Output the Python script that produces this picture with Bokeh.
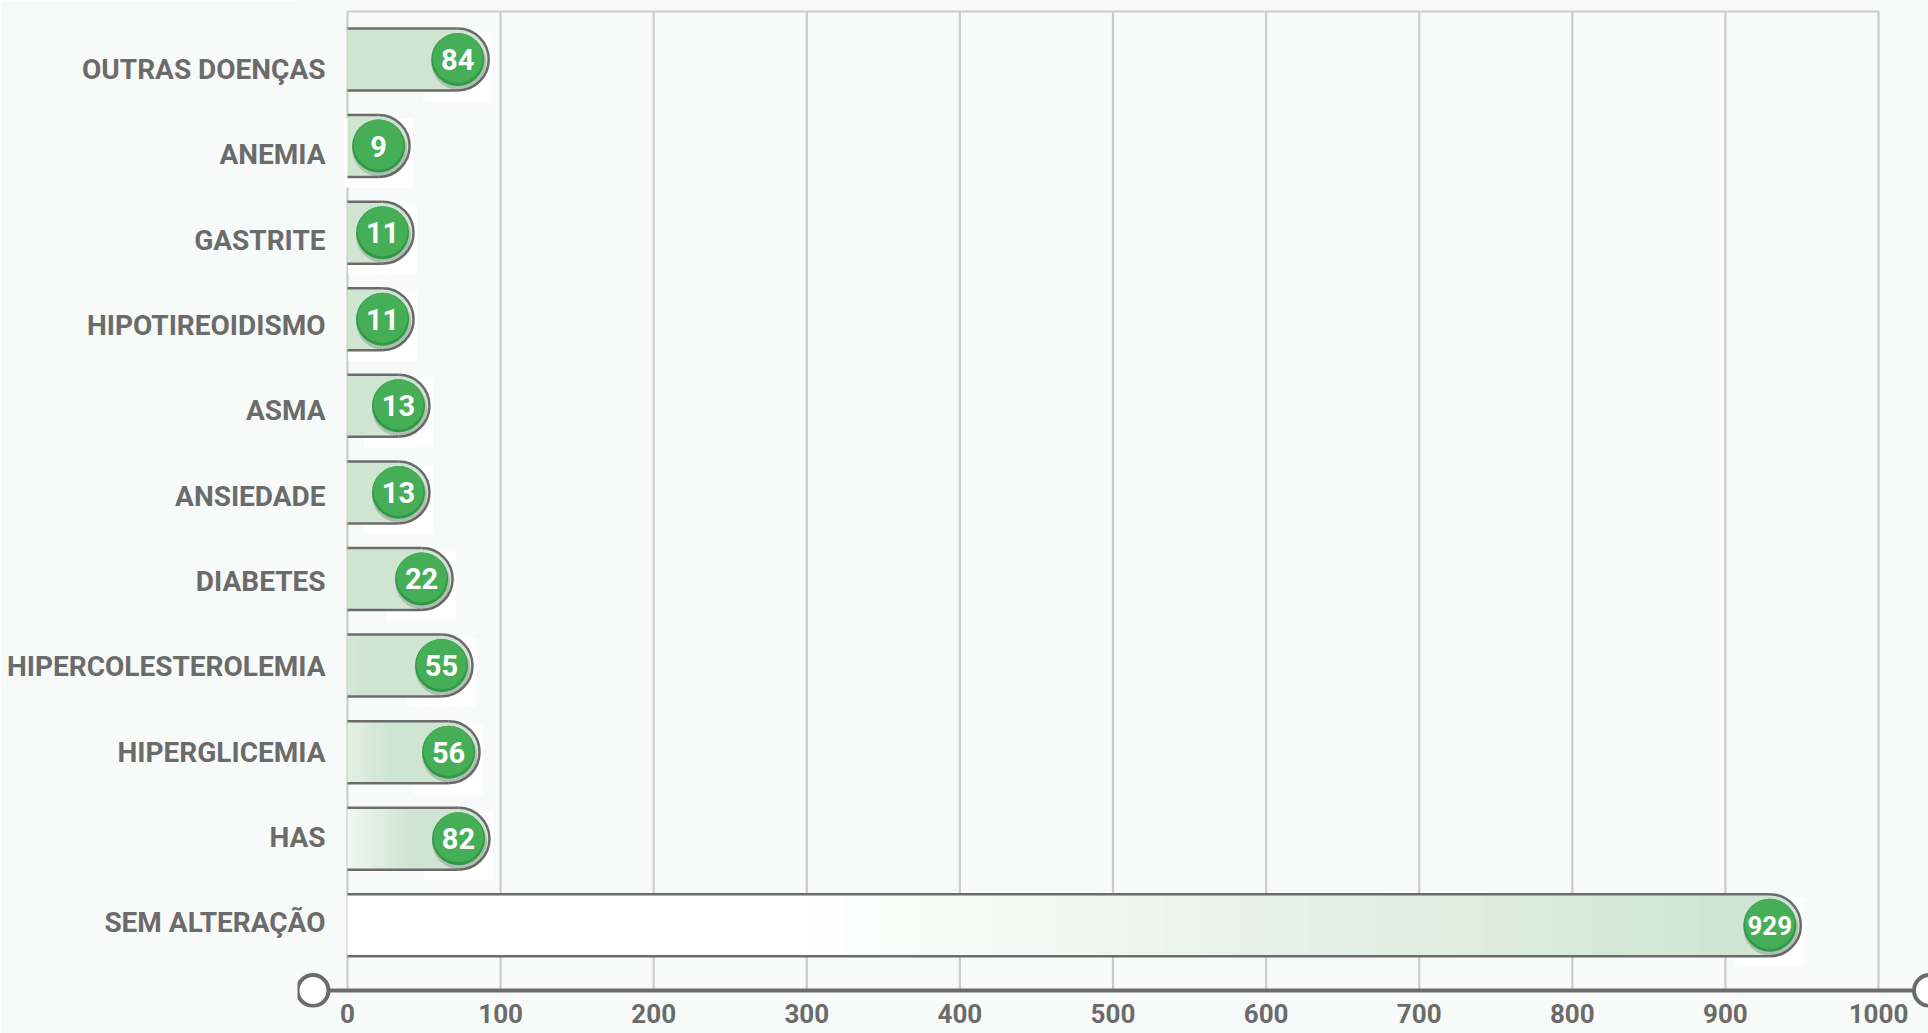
import math
from bokeh.plotting import figure
from bokeh.models import FixedTicker, ColumnDataSource, Range1d
from bokeh.core.properties import value
from bokeh.embed import file_html
from bokeh.resources import INLINE

# ---------------- data (bottom row first) ----------------
categories = ["SEM ALTERAÇÃO", "HAS", "HIPERGLICEMIA", "HIPERCOLESTEROLEMIA",
              "DIABETES", "ANSIEDADE", "ASMA", "HIPOTIREOIDISMO", "GASTRITE",
              "ANEMIA", "OUTRAS DOENÇAS"]
counts = [929, 82, 56, 55, 22, 13, 13, 11, 11, 9, 84]
# where each pill ends on the value axis, as drawn in the picture
bar_lengths = [929, 72.5, 66, 61.4, 48.4, 33.3, 33.3, 22.9, 22.9, 20.3, 72]
x_ticks = [0, 100, 200, 300, 400, 500, 600, 700, 800, 900, 1000]

# ---------------- style ----------------
# gradient per row: (fade start fraction, fade end fraction, start strength)
fades = [(0.30, 0.97, 0.0), (0.0, 0.55, 0.35), (0.0, 0.4, 0.6), (0.0, 0.15, 0.85),
         (0, 0, 1), (0, 0, 1), (0, 0, 1), (0, 0, 1), (0, 0, 1), (0, 0, 1), (0, 0, 1)]
BG = "#f8faf9"
GREY = "#6b6b6b"
GRID = "#cbcbcb"
FULL = (207, 229, 209)

W, H = 1928, 1033
FL = 297          # frame left
FB = 26           # bottom panel
frame_w = W - FL
frame_h = H - FB
PXX = 1.531       # px per unit on x
PITCH = 86.58     # px per row
x_start = -50 / PXX
x_end = x_start + frame_w / PXX
top_row_px = 59
y_end = 10 + top_row_px / PITCH
y_start = 10 - (frame_h - top_row_px) / PITCH


def py(px):
    return px / PITCH


def pxu(px):
    return px / PXX


def mix(s):
    r = [round(255 + s * (f - 255)) for f in FULL]
    return "#%02x%02x%02x" % tuple(r)


p = figure(width=W, height=H, x_range=Range1d(x_start, x_end), y_range=Range1d(y_start, y_end),
           output_backend="svg", toolbar_location=None,
           min_border_left=FL, min_border_right=0, min_border_top=0, min_border_bottom=FB,
           background_fill_color=BG, border_fill_color=BG, outline_line_color=None)
p.xgrid.visible = False
p.ygrid.visible = False

axis_y = 10 - (990 - top_row_px) / PITCH
top_y = 10 + py(48)

# grid lines and top border
p.segment(x0=x_ticks, y0=[axis_y] * len(x_ticks), x1=x_ticks, y1=[top_y] * len(x_ticks),
          line_color=GRID, line_width=2.2)
p.segment(x0=[x_ticks[0]], y0=[top_y], x1=[x_ticks[-1]], y1=[top_y], line_color=GRID, line_width=2.2)

rows = list(range(len(categories)))
hy = py(31)

# white halo boxes behind badges
p.rect(x=bar_lengths, y=[r - py(7) for r in rows], width=69, height=69,
       width_units="screen", height_units="screen", fill_color="white", line_color=None)

# gradient fill (stacked opaque layers, each running to the pill end)
gl, gr, gb, gt, gc = [], [], [], [], []
N = 40
for r, L, (f0, f1, s0) in zip(rows, bar_lengths, fades):
    if f1 <= f0:
        gl.append(0); gr.append(L); gb.append(r - hy); gt.append(r + hy); gc.append(mix(1.0))
        continue
    for k in range(N + 1):
        frac = k / N
        if frac <= f0:
            s = s0
        elif frac >= f1:
            s = 1.0
        else:
            s = s0 + (1 - s0) * (frac - f0) / (f1 - f0)
        if k > 0 and frac <= f0:
            continue
        gl.append(L * frac); gr.append(L); gb.append(r - hy); gt.append(r + hy); gc.append(mix(s))
        if s >= 1.0:
            break
p.quad(left=gl, right=gr, bottom=gb, top=gt, fill_color=gc, line_color=None)
p.wedge(x=bar_lengths, y=rows, radius=31, radius_units="screen", start_angle=-math.pi / 2,
        end_angle=math.pi / 2, fill_color=mix(1.0), line_color=None)

# pill outlines
p.segment(x0=[0] * len(rows), y0=[r + hy for r in rows], x1=bar_lengths, y1=[r + hy for r in rows],
          line_color=GREY, line_width=2.5)
p.segment(x0=[0] * len(rows), y0=[r - hy for r in rows], x1=bar_lengths, y1=[r - hy for r in rows],
          line_color=GREY, line_width=2.5)
p.arc(x=bar_lengths, y=rows, radius=31, radius_units="screen", start_angle=-math.pi / 2,
      end_angle=math.pi / 2, line_color=GREY, line_width=2.5)

# badges
p.scatter(x=[L + pxu(1) for L in bar_lengths], y=[r - py(3) for r in rows], size=55,
          fill_color="black", fill_alpha=0.16, line_color=None)
p.scatter(x=bar_lengths, y=rows, size=53, fill_color="#2e9a46", line_color=None)
p.scatter(x=bar_lengths, y=[r + py(1.5) for r in rows], size=50, fill_color="#47ae58", line_color=None)

src = ColumnDataSource(dict(x=bar_lengths, y=rows, t=[str(c) for c in counts],
                            fs=["26px" if len(str(c)) > 2 else "29px" for c in counts]))
p.text(x="x", y="y", text="t", source=src, text_align="center", text_baseline="middle",
       text_color="white", text_font=value("Roboto"), text_font_style="bold", text_font_size="fs")

# value axis line with end circles
p.segment(x0=[pxu(312.5 - 347)], y0=[axis_y], x1=[pxu(1929 - 347)], y1=[axis_y],
          line_color=GREY, line_width=4)
p.scatter(x=[pxu(312.5 - 347), pxu(1929 - 347)], y=[axis_y, axis_y], size=31,
          fill_color="white", line_color=GREY, line_width=4)

# axes (category labels sit on a slightly tighter pitch than the rows)
label_pos = [round(r + 0.028 - 0.0142 * r, 4) for r in rows]
p.yaxis.ticker = FixedTicker(ticks=label_pos)
p.yaxis.major_label_overrides = {lp: c for lp, c in zip(label_pos, categories)}
p.xaxis.ticker = FixedTicker(ticks=x_ticks)
for ax in (p.xaxis[0], p.yaxis[0]):
    ax.axis_line_color = None
    ax.major_tick_line_color = None
    ax.minor_tick_line_color = None
    ax.major_tick_out = 0
    ax.major_tick_in = 0
    ax.major_label_text_color = GREY
    ax.major_label_text_font_style = "bold"
p.yaxis.major_label_text_font = "Roboto"
p.yaxis.major_label_text_font_size = "28px"
p.yaxis.major_label_standoff = -28
p.xaxis.major_label_text_font = "Roboto"
p.xaxis.major_label_text_font_size = "26px"
p.xaxis.major_label_standoff = -4

open("out.html", "w").write(file_html(p, INLINE))
